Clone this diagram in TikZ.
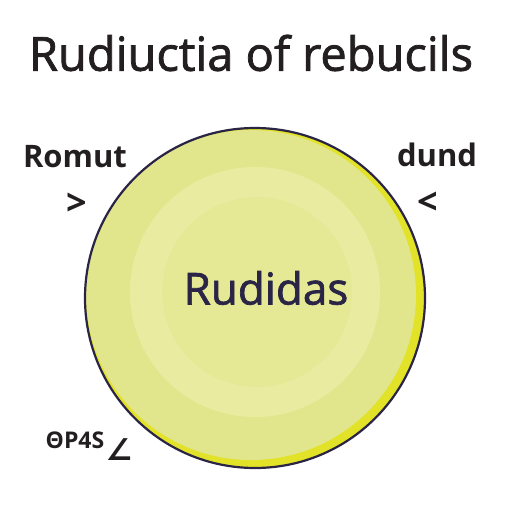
\documentclass[tikz,border=0pt]{standalone}
\usepackage{fontspec}
\setmainfont{Open Sans}
\newfontfamily\titlefont[BoldFont={Open Sans}, BoldFeatures={FakeBold=1.6}]{Open Sans}
\newfontfamily\symfont{DejaVu Sans}
\definecolor{ink}{RGB}{35,31,32}
\definecolor{navy}{RGB}{42,37,70}
\definecolor{discfill}{RGB}{225,230,140}
\definecolor{ringfill}{RGB}{233,236,160}
\definecolor{corefill}{RGB}{229,233,149}
\definecolor{rimfill}{RGB}{226,226,40}
\begin{document}
\begin{tikzpicture}[x=1pt, y=-1pt, every node/.style={inner sep=0pt, text=ink},
    side/.style={font=\fontsize{31}{31}\selectfont\bfseries},
    pointer/.style={font=\fontsize{36}{36}\selectfont\bfseries}]
    \useasboundingbox (0,0) rectangle (512,512);
    \fill[white] (0,0) rectangle (512,512);
    \node (title) at (251,53) {\fontsize{47}{47}\selectfont\titlefont\bfseries Rudiuctia of rebucils};
    \node[circle, fill=rimfill, minimum size=340pt] (disc) at (255,298) {};
    \node[circle, fill=discfill, minimum size=330pt] (face) at (251,295) {};
    \node[circle, fill=ringfill, minimum size=250pt] (ring) at (255,292) {};
    \node[circle, fill=corefill, minimum size=190pt] (core) at (257,292) {};
    \draw[navy, line width=2.2pt] (disc) circle (170pt);
    \node[text=navy, font=\fontsize{44}{44}\selectfont\titlefont\bfseries] (label) at (266,288) {Rudidas};
    \node[side] (romut) at (75,157) {Romut};
    \node[side] (dund) at (437,155) {dund};
    \node[pointer] (gt) at (77,204) {>};
    \node[pointer] (lt) at (428,203) {<};
    \node[font=\fontsize{23}{23}\selectfont\bfseries] (code) at (75,440) {ΘP4S};
    \node[font=\fontsize{30}{30}\selectfont\symfont\bfseries] (angle) at (119,450) {∠};
\end{tikzpicture}
\end{document}
